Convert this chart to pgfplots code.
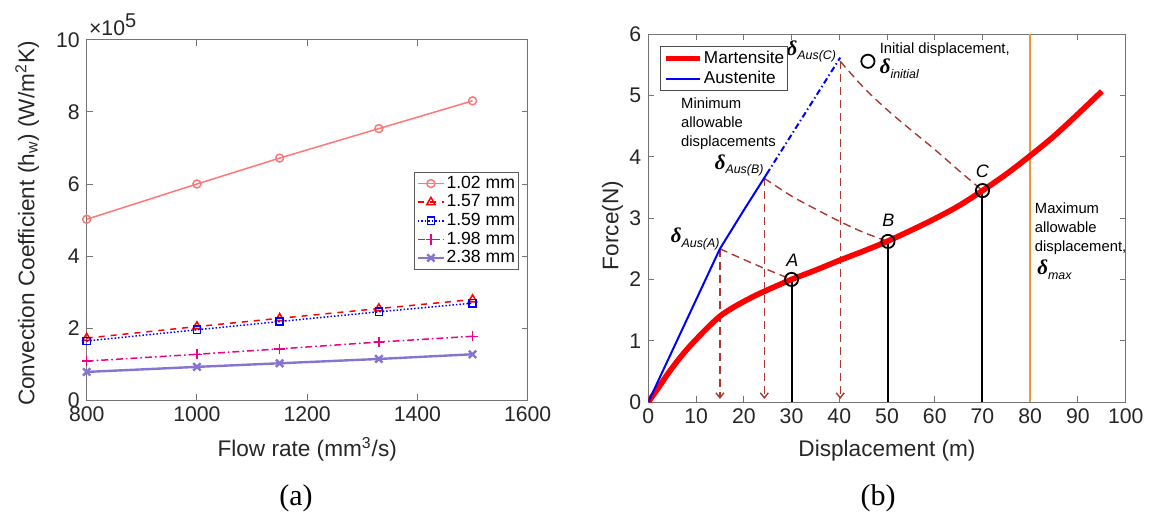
\documentclass[border=0pt]{standalone}
\usepackage{pgfplots}
\pgfplotsset{compat=1.18}
\usepackage{fontspec}
\setmainfont{Liberation Sans}
\newfontfamily\timesf{Liberation Serif}
\usetikzlibrary{arrows.meta}
\definecolor{salmon}{RGB}{255,120,120}
\definecolor{purp}{RGB}{135,115,210}
\definecolor{brn}{RGB}{170,55,50}
\definecolor{orng}{RGB}{240,150,50}
\newcommand\dlt[1]{{\timesf\bfseries\itshape\fontsize{10.5}{12}\selectfont δ}\raisebox{-2.2pt}{\fontsize{6.2}{7}\selectfont\itshape #1}}
\pgfplotsset{mat/.style={scale only axis,
  axis line style={black!55, line width=0.5pt},
  tick style={black!55, line width=0.5pt},
  tick align=inside, major tick length=3pt,
  ticklabel style={font=\fontsize{10.6}{12}\selectfont, text=black!85},
  label style={font=\fontsize{11.3}{13}\selectfont, text=black!85},
  clip mode=individual,
  /pgf/number format/assume math mode=true,
  /pgf/number format/1000 sep={}}}
\begin{document}
\begin{tikzpicture}[x=1pt,y=1pt]
\path (0,0) rectangle (577,260);
% ---------------- (a) ----------------
\begin{axis}[mat, at={(43.35pt,60pt)}, anchor=south west,
  width=220.5pt, height=180pt,
  xmin=800, xmax=1600, ymin=0, ymax=10,
  xtick={800,1000,...,1600}, ytick={0,2,...,10},
  xlabel={Flow rate (mm\textsuperscript{3}/s)},
  ylabel={Convection Coefficient (h\textsubscript{w}) (W/m\textsuperscript{2}K)},
  xlabel style={at={(axis description cs:0.5,-0.136)}, anchor=center},
  ylabel style={at={(axis description cs:-0.135,0.49)}, anchor=center},
  legend style={at={(0.98,0.634)}, anchor=north east, draw=black!65, line width=0.5pt,
    font=\fontsize{8.8}{9}\selectfont, inner sep=1pt,
    nodes={inner sep=0.7pt, text height=6.3pt, text depth=1.6pt}},
  legend cell align=left,
  legend image code/.code={\draw[mark repeat=2,mark phase=2,#1] plot coordinates {(0pt,0pt)(6.5pt,0pt)(13pt,0pt)};},
  every axis plot/.append style={mark size=2pt}]
\addplot[salmon, line width=0.75pt, mark=o, mark options={solid}] coordinates {(800,5.02)(1000,6.00)(1150,6.72)(1330,7.54)(1500,8.31)};
\addlegendentry{1.02 mm}
\addplot[red, line width=0.75pt, dashed, mark=triangle, mark options={solid, mark size=2.4pt}] coordinates {(800,1.72)(1000,2.04)(1150,2.27)(1330,2.54)(1500,2.79)};
\addlegendentry{1.57 mm}
\addplot[blue, line width=0.75pt, densely dotted, mark=square, mark options={solid, mark size=1.8pt}] coordinates {(800,1.64)(1000,1.95)(1150,2.18)(1330,2.45)(1500,2.69)};
\addlegendentry{1.59 mm}
\addplot[magenta, line width=0.75pt, dash pattern=on 3.5pt off 1.5pt on 0.8pt off 1.5pt, mark=+, mark options={solid, mark size=2.6pt}] coordinates {(800,1.08)(1000,1.27)(1150,1.42)(1330,1.61)(1500,1.77)};
\addlegendentry{1.98 mm}
\addplot[purp, line width=1.2pt, mark=x, mark options={solid, mark size=2.6pt}] coordinates {(800,0.78)(1000,0.92)(1150,1.02)(1330,1.14)(1500,1.27)};
\addlegendentry{2.38 mm}
\node[anchor=south west, inner sep=0pt, font=\fontsize{10.6}{12}\selectfont, text=black!85] at (rel axis cs:0,1) [yshift=2pt, xshift=1pt] {×10\textsuperscript{\fontsize{10}{12}\selectfont 5}};
\end{axis}
% ---------------- (b) ----------------
\begin{axis}[mat, at={(324.15pt,59pt)}, anchor=south west,
  width=238.7pt, height=183.85pt,
  xmin=0, xmax=100, ymin=0, ymax=6,
  xtick={0,10,...,100}, ytick={0,1,...,6},
  xlabel={Displacement (m)}, ylabel={Force(N)},
  xlabel style={at={(axis description cs:0.5,-0.133)}, anchor=center},
  ylabel style={at={(axis description cs:-0.075,0.48)}, anchor=center},
  legend style={at={(0.025,0.968)}, anchor=north west, draw=black!70, line width=0.5pt,
    font=\fontsize{8.6}{9}\selectfont, inner sep=1pt,
    nodes={inner sep=0.8pt, text height=6.6pt, text depth=1.8pt}},
  legend cell align=left,
  legend image code/.code={\draw[#1] (0pt,0pt) -- (17pt,0pt);}]
% orange max line
\addplot[orng, line width=0.9pt, forget plot] coordinates {(80,0)(80,6)};
% brown dashed connections
\addplot[brn, line width=0.7pt, dash pattern=on 4pt off 2.5pt, forget plot, -{Straight Barb[length=2.5pt,width=4pt]}] coordinates {(15,2.5)(15,0.05)};
\addplot[brn, line width=0.7pt, dash pattern=on 4pt off 2.5pt, forget plot, -{Straight Barb[length=2.5pt,width=4pt]}] coordinates {(24.3,3.65)(24.3,0.05)};
\addplot[brn, line width=0.7pt, dash pattern=on 4pt off 2.5pt, forget plot, -{Straight Barb[length=2.5pt,width=4pt]}] coordinates {(40.2,5.56)(40.2,0.05)};
\addplot[brn, line width=0.7pt, dash pattern=on 4pt off 2.5pt, forget plot, smooth] coordinates {(15,2.5)(22.5,2.24)(30,2.0)};
\addplot[brn, line width=0.7pt, dash pattern=on 4pt off 2.5pt, forget plot, smooth] coordinates {(24.3,3.65)(30,3.36)(35,3.15)(40,2.95)(45,2.77)(50.2,2.62)};
\addplot[brn, line width=0.7pt, dash pattern=on 4pt off 2.5pt, forget plot, smooth] coordinates {(40.2,5.56)(45,5.14)(50,4.77)(55,4.44)(60,4.12)(65,3.78)(70,3.45)};
% black verticals
\addplot[black, line width=1pt, forget plot] coordinates {(30,0)(30,2.0)};
\addplot[black, line width=1pt, forget plot] coordinates {(50.2,0)(50.2,2.62)};
\addplot[black, line width=1pt, forget plot] coordinates {(70,0)(70,3.45)};
% martensite
\addplot[red, line width=2.8pt, smooth] coordinates {(0,0)(2,0.22)(4,0.45)(6,0.66)(8,0.85)(10,1.02)(12.5,1.22)(15,1.40)(17.5,1.53)(20,1.64)(22.5,1.74)(25,1.83)(30,2.0)(35,2.15)(40,2.31)(45,2.46)(50,2.62)(55,2.8)(60,2.99)(65,3.2)(70,3.45)(75,3.72)(80,4.02)(85,4.34)(90,4.7)(95,5.07)};
\addlegendentry{Martensite}
% austenite
\addplot[blue, line width=1pt] coordinates {(0,0)(15,2.5)(20,3.13)(24.8,3.72)};
\addlegendentry{Austenite}
\addplot[blue, line width=1pt, dash pattern=on 3pt off 1.5pt on 0.7pt off 1.5pt, forget plot] coordinates {(24.8,3.72)(40.2,5.62)};
% circles
\addplot[black, only marks, mark=o, mark size=3.3pt, line width=0.9pt, forget plot] coordinates {(30,2.0)(50.2,2.62)(70,3.45)(46,5.56)};
% annotations
\node[font=\fontsize{9}{10}\selectfont\itshape] at (axis cs:30.2,2.32) {A};
\node[font=\fontsize{9}{10}\selectfont\itshape] at (axis cs:50.3,2.96) {B};
\node[font=\fontsize{9}{10}\selectfont\itshape] at (axis cs:70,3.77) {C};
\node[anchor=east, inner sep=0pt] at (axis cs:39.4,5.72) {\dlt{Aus(C)}};
\node[anchor=east, inner sep=0pt] at (axis cs:24.2,3.86) {\dlt{Aus(B)}};
\node[anchor=east, inner sep=0pt] at (axis cs:15.0,2.66) {\dlt{Aus(A)}};
\node[anchor=west, inner sep=0pt, font=\fontsize{7.4}{8}\selectfont] at (axis cs:48.4,5.75) {Initial displacement,};
\node[anchor=west, inner sep=0pt] at (axis cs:48.4,5.44) {\dlt{initial}};
\node[anchor=west, inner sep=0pt, align=left, font=\fontsize{7.4}{9.5}\selectfont] at (axis cs:6.8,4.54) {Minimum\\allowable\\displacements};
\node[anchor=west, inner sep=0pt, align=left, font=\fontsize{7.4}{9.5}\selectfont] at (axis cs:80.9,2.83) {Maximum\\allowable\\displacement,};
\node[anchor=west, inner sep=0pt] at (axis cs:81.4,2.16) {\dlt{max}};
\end{axis}
\node[font=\timesf\fontsize{15}{17}\selectfont] at (148,11) {(a)};
\node[font=\timesf\fontsize{15}{17}\selectfont] at (439,11) {(b)};
\end{tikzpicture}
\end{document}
